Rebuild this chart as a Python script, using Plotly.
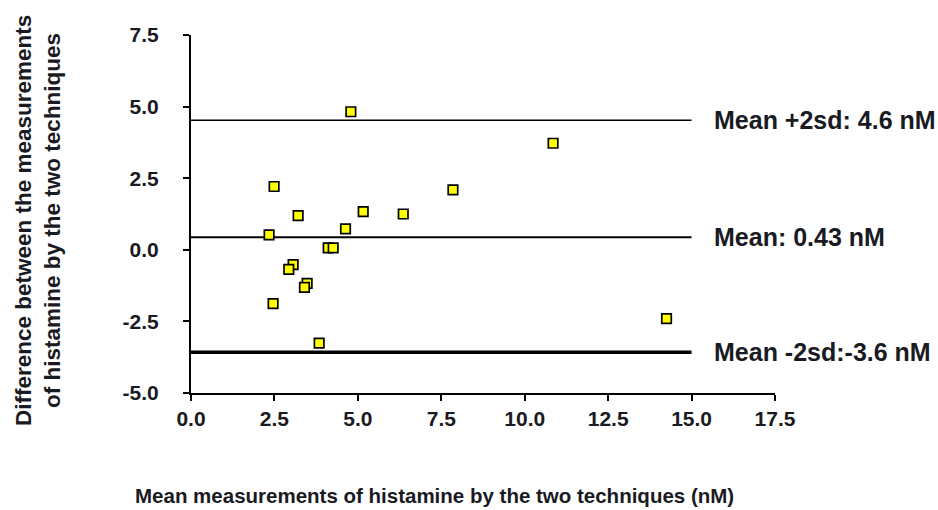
import plotly.graph_objects as go

# Data
mean_x = [2.34, 2.49, 3.21, 4.79, 5.16, 6.36, 7.85, 4.63, 4.11, 4.26,
          3.06, 2.93, 3.48, 3.40, 2.46, 3.84, 10.85, 14.25]
diff_y = [0.52, 2.21, 1.19, 4.82, 1.33, 1.25, 2.09, 0.73, 0.07, 0.07,
          -0.52, -0.68, -1.17, -1.31, -1.88, -3.26, 3.72, -2.40]

line_names = ["Mean +2sd: 4.6 nM", "Mean: 0.43 nM", "Mean -2sd:-3.6 nM"]
line_values = [4.52, 0.44, -3.58]
line_x = [0, 15]

x_ticks = [0, 2.5, 5, 7.5, 10, 12.5, 15, 17.5]
x_tick_labels = ["0.0", "2.5", "5.0", "7.5", "10.0", "12.5", "15.0", "17.5"]
y_ticks = [-5, -2.5, 0, 2.5, 5, 7.5]
y_tick_labels = ["-5.0", "-2.5", "0.0", "2.5", "5.0", "7.5"]

FONT = "Liberation Sans, Arial, sans-serif"
TXT = "#1a1a22"
line_widths = [1.5, 2, 3.5]

fig = go.Figure()
for name, val, w in zip(line_names, line_values, line_widths):
    fig.add_trace(go.Scatter(x=line_x, y=[val, val], mode="lines",
                             line=dict(color="black", width=w),
                             showlegend=False, hoverinfo="skip"))
    fig.add_annotation(x=15.62, y=val, xref="x", yref="y", text="<b>%s</b>" % name,
                       showarrow=False, xanchor="left", yanchor="middle",
                       font=dict(family=FONT, size=25, color=TXT))

fig.add_trace(go.Scatter(x=mean_x, y=diff_y, mode="markers",
                         marker=dict(symbol="square", size=9.5, color="#ffff00",
                                     line=dict(color="black", width=1.7)),
                         showlegend=False, cliponaxis=False))

fig.update_xaxes(range=[0, 17.5], tickvals=x_ticks, ticktext=["<b>%s</b>" % t for t in x_tick_labels],
                 showline=True, linecolor="black", linewidth=2, ticks="outside",
                 ticklen=6, tickwidth=2, tickcolor="black", showgrid=False, zeroline=False,
                 tickfont=dict(family=FONT, size=21, color=TXT))
fig.update_yaxes(range=[-5, 7.5], tickvals=y_ticks, ticktext=["<b>%s</b>" % t for t in y_tick_labels],
                 showline=True, linecolor="black", linewidth=2, ticks="outside",
                 ticklen=6, tickwidth=2, tickcolor="black", showgrid=False, zeroline=False,
                 tickfont=dict(family=FONT, size=21, color=TXT), ticklabelstandoff=20)

fig.add_annotation(x=0.417, y=-0.286, xref="paper", yref="paper",
                   text="<b>Mean measurements of histamine by the two techniques (nM)</b>",
                   showarrow=False, xanchor="center", yanchor="middle",
                   font=dict(family=FONT, size=20.5, color=TXT))
fig.add_annotation(x=-0.262, y=0.483, xref="paper", yref="paper",
                   text="<b>Difference between the measurements<br>of histamine by the two techniques</b>",
                   showarrow=False, xanchor="center", yanchor="middle", textangle=-90,
                   font=dict(family=FONT, size=22.5, color=TXT))

fig.update_layout(width=938, height=510, margin=dict(l=191, r=163, t=35, b=117, pad=0),
                  plot_bgcolor="white", paper_bgcolor="white")

fig.write_html("out.html")
